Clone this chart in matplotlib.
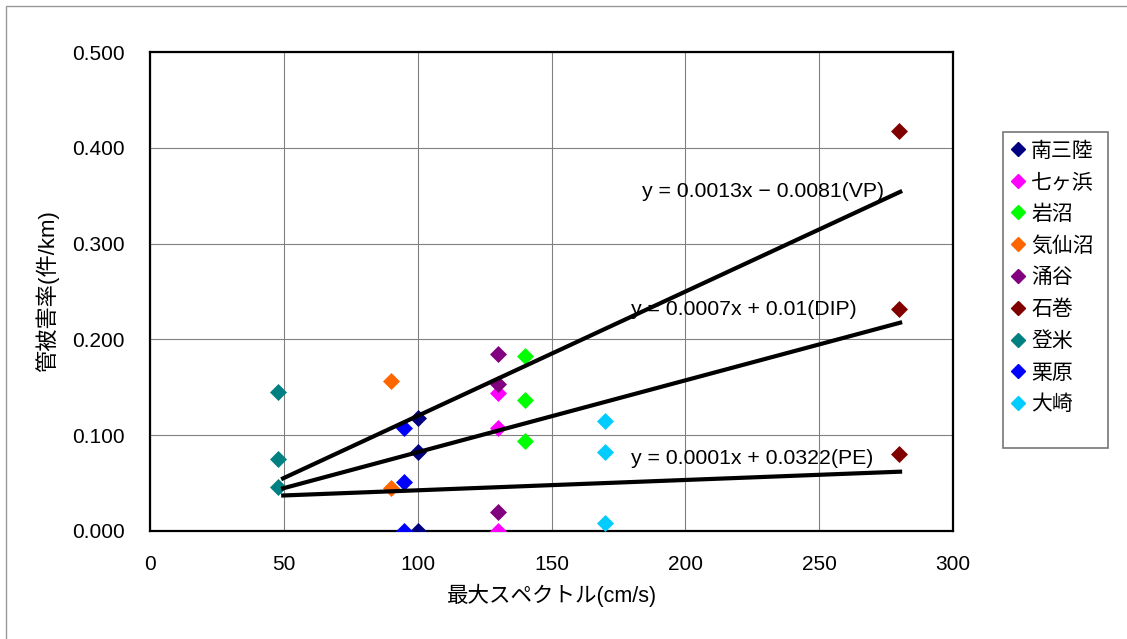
import matplotlib.pyplot as plt
from matplotlib.patches import Rectangle
from matplotlib.lines import Line2D
import numpy as np

plt.rcParams['font.family'] = ['Liberation Sans', 'Noto Sans CJK JP', 'DejaVu Sans']

# Scatter data per area: max spectrum (cm/s) and pipe damage rate (per km)
areas = ['南三陸', '七ヶ浜', '岩沼', '気仙沼', '涌谷', '石巻', '登米', '栗原', '大崎']
colors = ['#000080', '#FF00FF', '#00FF00', '#FF6600', '#800080',
          '#800000', '#008080', '#0000FF', '#00CCFF']
spec_x = [100, 130, 140, 90, 130, 280, 48, 95, 170]
rates = [
    [0.118, 0.082, 0.000],
    [0.144, 0.108, 0.000],
    [0.183, 0.137, 0.094],
    [0.157, 0.045],
    [0.185, 0.153, 0.020],
    [0.418, 0.232, 0.080],
    [0.145, 0.075, 0.046],
    [0.108, 0.051, 0.000],
    [0.115, 0.082, 0.008],
]

# Trend lines (start / end)
trend_x = [49, 281]
trend_vp = [0.054, 0.355]
trend_dip = [0.044, 0.218]
trend_pe = [0.037, 0.062]
eq_labels = ['y = 0.0013x − 0.0081(VP)', 'y = 0.0007x + 0.01(DIP)', 'y = 0.0001x + 0.0322(PE)']
eq_pos = [(229, 0.354), (222, 0.231), (225, 0.076)]

fig = plt.figure(figsize=(11.27, 6.39), dpi=100)
ax = fig.add_axes([150 / 1127, 1 - 531 / 639, 803 / 1127, 479 / 639])

# outer frame
fig.patches.append(Rectangle((6 / 1127, -0.1), 1.2, 1 - 6 / 639 + 0.1,
                             transform=fig.transFigure, fill=False,
                             edgecolor='#999999', linewidth=1))

for xv, ys, c in zip(spec_x, rates, colors):
    ax.scatter([xv] * len(ys), ys, marker='D', s=75, color=c, zorder=3, linewidths=0)

for ty in [trend_vp, trend_dip, trend_pe]:
    ax.plot(trend_x, ty, color='black', linewidth=3, zorder=4, solid_capstyle='butt')

for lab, (px, py) in zip(eq_labels, eq_pos):
    ax.text(px, py, lab, fontsize=15.3, ha='center', va='center', zorder=5)

ax.set_xlim(0, 300)
ax.set_ylim(0, 0.5)
ax.set_xticks(np.arange(0, 301, 50))
ax.set_yticks(np.arange(0, 0.51, 0.1))
ax.set_yticklabels(['%.3f' % v for v in np.arange(0, 0.51, 0.1)])
ax.tick_params(axis='y', length=0, pad=18, labelsize=15)
ax.tick_params(axis='x', length=0, pad=17, labelsize=15)
ax.grid(True, color='#808080', linewidth=0.8)
ax.set_axisbelow(True)
for s in ax.spines.values():
    s.set_linewidth(1.6)
    s.set_color('black')

ax.set_xlabel('最大スペクトル(cm/s)', fontsize=15.5)
ax.set_ylabel('管被害率(件/km)', fontsize=16)
ax.yaxis.set_label_coords(-91 / 803, 0.5)
ax.xaxis.set_label_coords(0.5, -53 / 479)

# legend
fig.patches.append(Rectangle((1003 / 1127, 1 - 448 / 639), 105 / 1127, 316 / 639,
                             transform=fig.transFigure, fill=False,
                             edgecolor='#777777', linewidth=1.2))
handles = [Line2D([], [], marker='D', linestyle='none', color=c, markersize=7) for c in colors]
fig.legend(handles, areas, loc='upper left', bbox_to_anchor=(1003 / 1127, 1 - 133 / 639),
           frameon=False, fontsize=15, handlelength=0.6, handletextpad=0.35,
           labelspacing=0.59, borderpad=0.2, borderaxespad=0.2)

fig.savefig('out.png', dpi=100)
